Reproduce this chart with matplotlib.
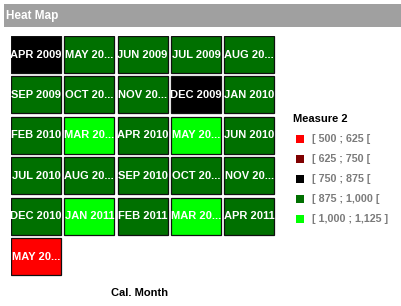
import matplotlib
matplotlib.use("Agg")
import matplotlib.pyplot as plt
from matplotlib.patches import Rectangle

plt.rcParams['font.family'] = ['Liberation Sans', 'DejaVu Sans']

# Calendar months shown in the grid (labels as displayed, truncated where too long)
months = ["APR 2009", "MAY 20...", "JUN 2009", "JUL 2009", "AUG 20...",
          "SEP 2009", "OCT 20...", "NOV 20...", "DEC 2009", "JAN 2010",
          "FEB 2010", "MAR 20...", "APR 2010", "MAY 20...", "JUN 2010",
          "JUL 2010", "AUG 20...", "SEP 2010", "OCT 20...", "NOV 20...",
          "DEC 2010", "JAN 2011", "FEB 2011", "MAR 20...", "APR 2011",
          "MAY 20..."]
# Measure 2 bin index of each month (into bin_labels)
month_bins = [2, 3, 3, 3, 3,
              3, 3, 3, 2, 3,
              3, 4, 3, 4, 3,
              3, 3, 3, 3, 3,
              3, 4, 3, 4, 3,
              0]
bin_labels = ["[ 500 ; 625 [", "[ 625 ; 750 [", "[ 750 ; 875 [",
              "[ 875 ; 1,000 [", "[ 1,000 ; 1,125 ]"]
bin_colors = ["#ff0000", "#7f0000", "#000000", "#007000", "#00ff00"]

n_cols = 5
n_rows = 6
W, H = 401, 306

fig = plt.figure(figsize=(W / 100, H / 100), dpi=100)
fig.patch.set_facecolor("white")

# Header bar
hdr = fig.add_axes([4 / W, 1 - 27 / H, (W - 4) / W, 23 / H])
hdr.set_facecolor("#a0a0a0")
hdr.set_xticks([]); hdr.set_yticks([])
for s in hdr.spines.values():
    s.set_visible(False)
hdr.text(0.006, 0.5, "Heat Map", color="white", fontsize=8.5, fontweight="bold",
         va="center", ha="left", transform=hdr.transAxes)

# Heat map grid
gx0, gy0 = 11, 36
pitch_x, pitch_y = 53.3, 40.4
ax = fig.add_axes([gx0 / W, 1 - (gy0 + n_rows * pitch_y) / H,
                   n_cols * pitch_x / W, n_rows * pitch_y / H])
ax.set_xlim(0, n_cols)
ax.set_ylim(n_rows, 0)
ax.axis("off")
cw, ch = 50 / pitch_x, 37 / pitch_y
for i, (lab, b) in enumerate(zip(months, month_bins)):
    c, r = i % n_cols, i // n_cols
    ax.add_patch(Rectangle((c, r), cw, ch, facecolor=bin_colors[b],
                           edgecolor="#101010", linewidth=0.9))
    ax.text(c + cw / 2, r + ch / 2, lab, color="white", fontsize=8,
            fontweight="bold", ha="center", va="center")

fig.text(140 / W, 1 - 293 / H, "Cal. Month", fontsize=8, fontweight="bold",
         ha="center", va="center", color="black")

# Legend
fig.text(293 / W, 1 - 119 / H, "Measure 2", fontsize=8, fontweight="bold",
         ha="left", va="center", color="black")
leg = fig.add_axes([0, 0, 1, 1], facecolor="none")
leg.set_xlim(0, W); leg.set_ylim(H, 0); leg.axis("off")
for k, (lab, col) in enumerate(zip(bin_labels, bin_colors)):
    y = 139 + 20 * k
    leg.add_patch(Rectangle((296, y - 4), 8, 8, facecolor=col, edgecolor="none"))
    leg.text(312, y, lab, fontsize=7.7, fontweight="bold", color="#7a7a7a",
             ha="left", va="center")

fig.savefig("out.png", dpi=100, facecolor="white")
